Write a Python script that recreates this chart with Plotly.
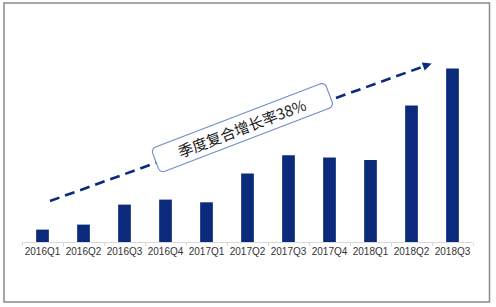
import math
import plotly.graph_objects as go

categories = ["2016Q1", "2016Q2", "2016Q3", "2016Q4", "2017Q1", "2017Q2",
              "2017Q3", "2017Q4", "2018Q1", "2018Q2", "2018Q3"]
values = [12.4, 17.4, 37.4, 42.4, 39.7, 68.4, 86.7, 84.4, 82.0, 136.4, 173.4]
label_text = "季度复合增长率38%"

W, H = 496, 307
ML, MR, MT, MB = 22, 23, 20, 65
PW, PH = W - ML - MR, H - MT - MB
NAVY = "#0B2A7B"


def px(x, y):
    return (x - ML) / PW, (H - MB - y) / PH


fig = go.Figure()
fig.add_trace(go.Bar(x=categories, y=values, marker_color=NAVY,
                     marker_line_width=0, width=0.31))

shapes = []
# outer frame
x0, y0 = px(4, 3)
x1, y1 = px(489.5, 302)
shapes.append(dict(type="rect", xref="paper", yref="paper", x0=x0, y0=y1, x1=x1, y1=y0,
                   line=dict(color="#8a8a8a", width=1.5), layer="above"))

# dashed trend arrow
sx, sy = 50, 201
tx, ty = 431.7, 63.5
L = math.hypot(tx - sx, ty - sy)
ux, uy = (tx - sx) / L, (ty - sy) / L
nx, ny = -uy, ux
hl, hw = 9, 4.2
bx, by = tx - hl * ux, ty - hl * uy
a0 = px(sx, sy)
a1 = px(bx, by)
shapes.append(dict(type="line", xref="paper", yref="paper", x0=a0[0], y0=a0[1], x1=a1[0], y1=a1[1],
                   line=dict(color=NAVY, width=2.6, dash="10px,6px"), layer="above"))
p1 = px(tx, ty)
p2 = px(bx + hw * nx, by + hw * ny)
p3 = px(bx - hw * nx, by - hw * ny)
shapes.append(dict(type="path", xref="paper", yref="paper",
                   path=f"M {p1[0]} {p1[1]} L {p2[0]} {p2[1]} L {p3[0]} {p3[1]} Z",
                   fillcolor=NAVY, line=dict(width=0), layer="above"))

# rounded rotated label box
cx, cy = 242.4, 127.6
ang = math.radians(-21)
bw, bh, r = 186, 26, 5
ca, sa = math.cos(ang), math.sin(ang)


def rot(x, y):
    return px(cx + x * ca - y * sa, cy + x * sa + y * ca)


pts = []
hwid, hhei = bw / 2, bh / 2
corners = [(hwid - r, -hhei + r, -90), (hwid - r, hhei - r, 0), (-hwid + r, hhei - r, 90), (-hwid + r, -hhei + r, 180)]
for ccx, ccy, start in corners:
    for k in range(7):
        t = math.radians(start + 15 * k)
        pts.append(rot(ccx + r * math.cos(t), ccy + r * math.sin(t)))
path = "M " + " L ".join(f"{p[0]:.5f} {p[1]:.5f}" for p in pts) + " Z"
shapes.append(dict(type="path", xref="paper", yref="paper", path=path,
                   fillcolor="white", line=dict(color="#6F8CC6", width=1.1), layer="above"))

c = px(cx, cy)
fig.add_annotation(x=c[0], y=c[1], xref="paper", yref="paper", text=label_text,
                   showarrow=False, textangle=-21, xanchor="center", yanchor="middle",
                   font=dict(family="Noto Sans CJK SC", size=15, color="#1a1a1a"))

fig.update_layout(
    width=W, height=H, margin=dict(l=ML, r=MR, t=MT, b=MB),
    paper_bgcolor="white", plot_bgcolor="white", showlegend=False,
    shapes=shapes, bargap=0.69,
    xaxis=dict(showline=True, linecolor="#d9d9d9", linewidth=1, ticks="outside",
               tickson="boundaries", ticklen=3, tickcolor="#d9d9d9", tickangle=0,
               tickfont=dict(family="Liberation Sans, Arial", size=10, color="#333333"),
               showgrid=False, fixedrange=True),
    yaxis=dict(range=[0, PH], visible=False, showgrid=False, fixedrange=True),
)

fig.write_html("out.html")
